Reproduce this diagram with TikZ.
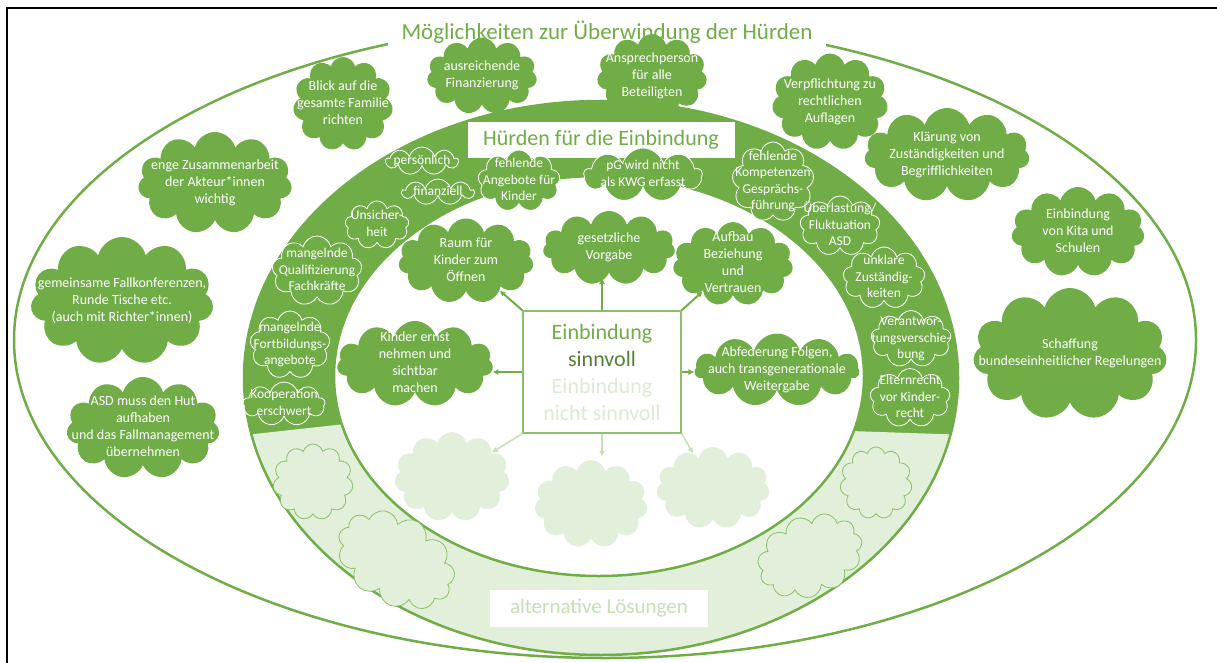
\documentclass[tikz,border=0pt]{standalone}
\usepackage{fontspec}
\setmainfont{Carlito}
\usetikzlibrary{shapes.symbols,arrows.meta}
\definecolor{kgreen}{HTML}{70AD47}
\definecolor{kdark}{HTML}{548235}
\definecolor{klight}{HTML}{E2EFDA}
\definecolor{kfaint}{HTML}{DCEBD2}
\definecolor{kmid}{HTML}{C5E0B4}
\definecolor{kline}{HTML}{8CC06B}
\newcommand{\ctext}[1]{\makebox[0pt]{\smash{\raisebox{-.25em}{\begin{tabular}{@{}c@{}}#1\end{tabular}}}}}
\tikzset{
  mcloud/.style={cloud, cloud puffs=11, cloud ignores aspect, fill=kgreen, text=white,
    inner sep=0pt, font=\fontsize{14}{17}\selectfont},
  rcloud/.style={mcloud, cloud puffs=9, draw=white, line width=0.8pt, font=\fontsize{13.5}{16.5}\selectfont},
  lcloud/.style={cloud, cloud puffs=11, cloud ignores aspect, fill=klight, draw=kline, line width=0.8pt, inner sep=0pt},
  scloud/.style={cloud, cloud puffs=11, cloud ignores aspect, fill=klight, inner sep=0pt},
  arr/.style={kgreen, line width=2pt, -{Latex[length=6pt,width=6pt]}},
  larr/.style={kmid, line width=1.5pt, -{Latex[length=6pt,width=6pt]}}
}
\begin{document}
\begin{tikzpicture}[x=1pt,y=-1pt]
\useasboundingbox (0,0) rectangle (1217,663);
% frame
\draw[line width=2pt] (7,663) -- (7,8) -- (1217,8);

% outer ellipse and title
\draw[kgreen, line width=2.5pt] (605,340) ellipse [x radius=591, y radius=318];
\node[fill=white, text=kgreen, inner xsep=14pt, font=\fontsize{23}{27}\selectfont] (T) at (607,32) {Möglichkeiten zur Überwindung der Hürden};

% ring
\fill[kgreen, even odd rule] (601,378) ellipse [x radius=357, y radius=277] (599,376) ellipse [x radius=265, y radius=200];
\begin{scope}
  \clip (200,440) -- (345,424) -- (850,431) -- (1000,436) -- (1000,663) -- (200,663) -- cycle;
  \fill[klight, even odd rule] (601,378) ellipse [x radius=357, y radius=277] (599,376) ellipse [x radius=265, y radius=200];
\end{scope}
\draw[kgreen, line width=2.5pt] (601,378) ellipse [x radius=357, y radius=277];
\draw[kgreen, line width=2.5pt] (599,376) ellipse [x radius=265, y radius=200];

\node[fill=white, text=kgreen, minimum width=267pt, minimum height=36pt, font=\fontsize{22}{26}\selectfont] (H) at (601,140) {Hürden für die Einbindung};
\node[fill=white, text=kmid, minimum width=218pt, minimum height=37pt, font=\fontsize{21}{25}\selectfont] (A) at (599,608) {alternative Lösungen};

% Moeglichkeiten
\node[mcloud, minimum width=100pt, minimum height=94pt] (M1) at (343,104) {\ctext{Blick auf die\\gesamte Familie\\richten}};
\node[mcloud, minimum width=110pt, minimum height=77pt] (M2) at (482,76) {\ctext{ausreichende\\Finanzierung}};
\node[mcloud, minimum width=110pt, minimum height=84pt] (M3) at (652,76) {\ctext{Ansprechperson\\für alle\\Beteiligten}};
\node[mcloud, minimum width=116pt, minimum height=97pt] (M4) at (830,102) {\ctext{Verpflichtung zu\\rechtlichen\\Auflagen}};
\node[mcloud, minimum width=165pt, minimum height=94pt] (M5) at (947,155) {\ctext{Klärung von\\Zuständigkeiten und\\Begrifflichkeiten}};
\node[mcloud, minimum width=133pt, minimum height=90pt] (M6) at (1078,232) {\ctext{Einbindung\\von Kita und\\Schulen}};
\node[mcloud, minimum width=194pt, minimum height=132pt] (M7) at (1070,354) {\ctext{Schaffung\\bundeseinheitlicher Regelungen}};
\node[mcloud, minimum width=154pt, minimum height=102pt] (M8) at (215,183) {\ctext{enge Zusammenarbeit\\der Akteur*innen\\wichtig}};
\node[mcloud, minimum width=183pt, minimum height=128pt] (M9) at (122,301) {\ctext{gemeinsame Fallkonferenzen,\\Runde Tische etc.\\(auch mit Richter*innen)}};
\node[mcloud, minimum width=153pt, minimum height=102pt] (M10) at (143,428) {\ctext{ASD muss den Hut\\aufhaben\\und das Fallmanagement\\übernehmen}};

% Huerden
\node[rcloud, minimum width=72pt, minimum height=28pt] (R1) at (422,161) {\ctext{persönlich}};
\node[rcloud, minimum width=72pt, minimum height=26pt] (R2) at (438,192) {\ctext{finanziell}};
\node[rcloud, minimum width=64pt, minimum height=48pt] (R3) at (377,225) {\ctext{Unsicher-\\heit}};
\node[rcloud, minimum width=90pt, minimum height=70pt] (R4) at (317,271) {\ctext{mangelnde\\Qualifizierung\\Fachkräfte}};
\node[rcloud, minimum width=82pt, minimum height=62pt] (R5) at (519,181) {\ctext{fehlende\\Angebote für\\Kinder}};
\node[rcloud, minimum width=118pt, minimum height=54pt] (R6) at (643,175) {\ctext{pG wird nicht\\als KWG erfasst}};
\node[rcloud, minimum width=82pt, minimum height=80pt] (R7) at (773,182) {\ctext{fehlende\\Kompetenzen\\Gesprächs-\\führung}};
\node[rcloud, minimum width=80pt, minimum height=60pt] (R8) at (840,226) {\ctext{Überlastung/\\Fluktuation\\ASD}};
\node[rcloud, minimum width=82pt, minimum height=62pt] (R9) at (884,278) {\ctext{unklare\\Zuständig-\\keiten}};
\node[rcloud, minimum width=80pt, minimum height=57pt] (R10) at (911,339) {\ctext{Verantwor-\\tungsverschie-\\bung}};
\node[rcloud, minimum width=80pt, minimum height=59pt] (R11) at (910,398) {\ctext{Elternrecht\\vor Kinder-\\recht}};
\node[rcloud, minimum width=80pt, minimum height=68pt] (R12) at (290,345) {\ctext{mangelnde\\Fortbildungs-\\angebote}};
\node[rcloud, minimum width=82pt, minimum height=44pt] (R13) at (284,404) {\ctext{Kooperation\\erschwert}};

% alternative Loesungen (leer)
\node[lcloud, minimum width=80pt, minimum height=76pt] (L1) at (313,482) {};
\node[lcloud, minimum width=125pt, minimum height=88pt, rotate=-30] (L2) at (396,560) {};
\node[lcloud, minimum width=72pt, minimum height=72pt] (L3) at (876,483) {};
\node[lcloud, minimum width=108pt, minimum height=80pt, rotate=22] (L4) at (810,556) {};

% sinnvoll
\node[mcloud, minimum width=135pt, minimum height=85pt] (S1) at (466,261) {\ctext{Raum für\\Kinder zum\\Öffnen}};
\node[mcloud, minimum width=132pt, minimum height=74pt] (S2) at (609,248) {\ctext{gesetzliche\\Vorgabe}};
\node[mcloud, minimum width=120pt, minimum height=84pt] (S3) at (733,264) {\ctext{Aufbau\\Beziehung\\und\\Vertrauen}};
\node[mcloud, minimum width=156pt, minimum height=86pt] (S4) at (415,364) {\ctext{Kinder ernst\\nehmen und\\sichtbar\\machen}};
\node[mcloud, minimum width=165pt, minimum height=73pt] (S5) at (777,370) {\ctext{Abfederung Folgen,\\auch transgenerationale\\Weitergabe}};

% nicht sinnvoll (leer)
\node[scloud, minimum width=115pt, minimum height=90pt] (N1) at (452,477) {};
\node[scloud, minimum width=113pt, minimum height=88pt] (N2) at (591,504) {};
\node[scloud, minimum width=113pt, minimum height=82pt] (N3) at (713,488) {};

% center box
\node[draw=kline, line width=1.2pt, fill=white, minimum width=158pt, minimum height=122pt, align=center,
  font=\fontsize{22}{27}\selectfont] (E) at (602,372)
  {\textcolor{kgreen}{Einbindung}\\\textcolor{kdark}{sinnvoll}\\\textcolor{kfaint}{Einbindung}\\\textcolor{kfaint}{nicht sinnvoll}};

\draw[arr] (E.north west) -- (S1);
\draw[arr, shorten >=5pt] (E.north) -- (E.north |- S2.south);
\draw[arr] (E.north east) -- (S3);
\draw[arr] (E.west) -- (E.west -| S4.east);
\draw[arr] (E.east) -- (E.east -| S5.west);
\draw[larr] (E.south west) -- (N1);
\draw[larr, shorten >=3pt] (E.south) -- (E.south |- N2.north);
\draw[larr] (E.south east) -- (N3);
\end{tikzpicture}
\end{document}
